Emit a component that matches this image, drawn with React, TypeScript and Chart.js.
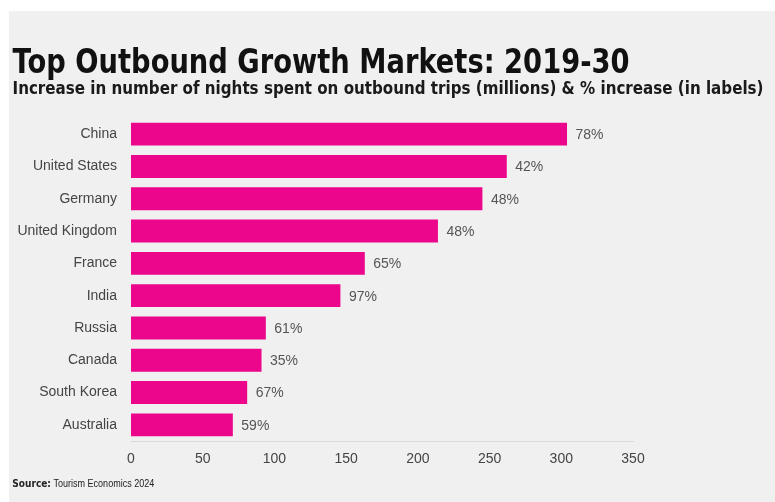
import React, { useEffect, useRef } from "react";
import { Chart, registerables } from "chart.js";

Chart.register(...registerables);

const titleText = "Top Outbound Growth Markets: 2019-30";
const subtitleText =
  "Increase in number of nights spent on outbound trips (millions) & % increase (in labels)";
const sourceLabel = "Source:";
const sourceText = " Tourism Economics 2024";

const countries = [
  "China",
  "United States",
  "Germany",
  "United Kingdom",
  "France",
  "India",
  "Russia",
  "Canada",
  "South Korea",
  "Australia",
];
const nightsIncrease = [304, 262, 245, 214, 163, 146, 94, 91, 81, 71];
const pctLabels = ["78%", "42%", "48%", "48%", "65%", "97%", "61%", "35%", "67%", "59%"];
const xMin = 0;
const xMax = 350;
const xStep = 50;

const BAR_COLOR = "#EC068B";
const PANEL_BG = "#f0f0f0";
const W = 766;
const H = 491;

function drawFitted(ctx: CanvasRenderingContext2D, text: string, x: number, y: number, width: number) {
  const w = ctx.measureText(text).width;
  ctx.save();
  ctx.translate(x, y);
  ctx.scale(width / w, 1);
  ctx.fillText(text, 0, 0);
  ctx.restore();
}

const textPlugin = {
  id: "texts",
  afterDraw(chart: any) {
    const ctx: CanvasRenderingContext2D = chart.ctx;
    ctx.save();
    ctx.textBaseline = "alphabetic";
    ctx.textAlign = "left";
    ctx.fillStyle = "#111";
    ctx.font = "bold 33px 'DejaVu Sans'";
    drawFitted(ctx, titleText, 3.5, 61.5, 617);
    ctx.fillStyle = "#1a1a1a";
    ctx.font = "bold 17px 'DejaVu Sans'";
    drawFitted(ctx, subtitleText, 3.5, 82.5, 751);
    ctx.fillStyle = "#222";
    ctx.font = "bold 10px 'DejaVu Sans'";
    const w1 = ctx.measureText(sourceLabel).width;
    ctx.font = "10px 'Liberation Sans'";
    const w2 = ctx.measureText(sourceText).width;
    const s = 142 / (w1 + w2);
    ctx.translate(3.3, 475.5);
    ctx.scale(s, 1);
    ctx.font = "bold 10px 'DejaVu Sans'";
    ctx.fillText(sourceLabel, 0, 0);
    ctx.font = "10px 'Liberation Sans'";
    ctx.fillText(sourceText, w1, 0);
    ctx.restore();
  },
};

const barLabelPlugin = {
  id: "barLabels",
  afterDatasetsDraw(chart: any) {
    const ctx: CanvasRenderingContext2D = chart.ctx;
    const meta = chart.getDatasetMeta(0);
    ctx.save();
    ctx.fillStyle = "#555";
    ctx.font = "14px 'Liberation Sans'";
    ctx.textBaseline = "middle";
    ctx.textAlign = "left";
    meta.data.forEach((bar: any, i: number) => {
      ctx.fillText(pctLabels[i], bar.x + 8.5, bar.y + 1);
    });
    ctx.restore();
  },
};

export default function App() {
  const canvasRef = useRef<HTMLCanvasElement | null>(null);

  useEffect(() => {
    if (!canvasRef.current) return;
    const chart = new Chart(canvasRef.current, {
      type: "bar",
      data: {
        labels: countries,
        datasets: [
          {
            data: nightsIncrease,
            backgroundColor: BAR_COLOR,
            borderWidth: 0,
            categoryPercentage: 1,
            barPercentage: 0.71,
          },
        ],
      },
      options: {
        indexAxis: "y",
        responsive: false,
        animation: false,
        devicePixelRatio: 1,
        layout: { padding: { top: 107, right: 142, left: 0, bottom: 21 } },
        plugins: {
          legend: { display: false },
          tooltip: { enabled: false },
          title: { display: false },
        },
        scales: {
          x: {
            min: xMin,
            max: xMax,
            ticks: {
              stepSize: xStep,
              color: "#444",
              font: { family: "'Liberation Sans'", size: 14 },
              padding: 10,
            },
            grid: { display: false, drawTicks: false },
            border: { display: true, color: "#dadada", width: 1 },
            afterFit: (scale: any) => {
              scale.height = 40;
            },
          },
          y: {
            ticks: {
              color: "#444",
              font: { family: "'Liberation Sans'", size: 14 },
              padding: 14,
            },
            grid: { display: false, drawTicks: false },
            border: { display: false },
            afterFit: (scale: any) => {
              scale.width = 122;
            },
          },
        },
      },
      plugins: [barLabelPlugin, textPlugin],
    });
    return () => chart.destroy();
  }, []);

  return (
    <div
      style={{
        position: "fixed",
        left: 9,
        top: 11,
        width: W,
        height: H,
        background: PANEL_BG,
      }}
    >
      <canvas ref={canvasRef} width={W} height={H} style={{ display: "block" }} />
    </div>
  );
}
